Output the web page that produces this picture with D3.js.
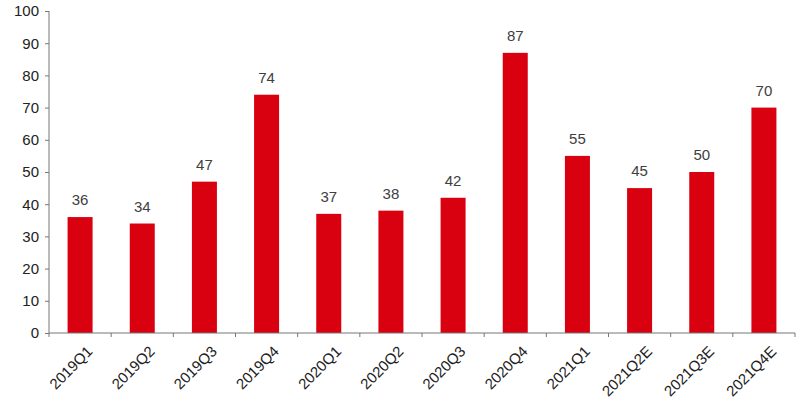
<!DOCTYPE html>
<html><head><meta charset="utf-8">
<script src="https://cdn.jsdelivr.net/npm/d3@7"></script>
<style>body{margin:0;background:#fff}</style>
</head><body>
<svg id="chart" width="800" height="404"></svg>
<script>
var quarters = ["2019Q1","2019Q2","2019Q3","2019Q4","2020Q1","2020Q2","2020Q3","2020Q4","2021Q1","2021Q2E","2021Q3E","2021Q4E"];
var values = [36,34,47,74,37,38,42,87,55,45,50,70];
var yTicks = [0,10,20,30,40,50,60,70,80,90,100];

var margin = {left: 49, right: 5, top: 11, bottom: 71};
var width = 800, height = 404;

var x = d3.scaleBand().domain(quarters).range([margin.left, width - margin.right]).paddingInner(0.6).paddingOuter(0.3);
var xb = d3.scaleBand().domain(quarters).range([margin.left, width - margin.right]);
var y = d3.scaleLinear().domain([0, 100]).range([height - margin.bottom, margin.top]);

var svg = d3.select("#chart").attr("font-family", "Arial, 'Liberation Sans', sans-serif");

svg.selectAll(".bar").data(values).join("rect")
  .attr("class", "bar")
  .attr("x", (d, i) => xb(quarters[i]) + xb.bandwidth() / 2 - 12.5)
  .attr("width", 25)
  .attr("y", d => y(d))
  .attr("height", d => y(0) - y(d))
  .attr("fill", "#d9000f");

svg.selectAll(".lbl").data(values).join("text")
  .attr("x", (d, i) => xb(quarters[i]) + xb.bandwidth() / 2)
  .attr("y", d => y(d) - 12)
  .attr("text-anchor", "middle")
  .attr("font-size", 15)
  .attr("fill", "#404040")
  .text(d => d);

// y axis
var ya = svg.append("g").attr("transform", `translate(${margin.left},0)`)
  .call(d3.axisLeft(y).tickValues(yTicks).tickSize(4).tickPadding(6));
ya.selectAll("text").attr("font-size", 15).attr("fill", "#222");
ya.selectAll("line,path").attr("stroke", "#777");
ya.select(".domain").attr("d", `M0,${y(100)}V${y(0)}`);

// x axis: ticks at band boundaries
var xa = svg.append("g").attr("transform", `translate(0,${y(0)})`);
xa.append("line").attr("x1", margin.left).attr("x2", width - margin.right).attr("stroke", "#777");
xa.selectAll(".tk").data(quarters.concat(["end"])).join("line")
  .attr("x1", (d, i) => margin.left + i * xb.bandwidth())
  .attr("x2", (d, i) => margin.left + i * xb.bandwidth())
  .attr("y1", 0).attr("y2", 4).attr("stroke", "#777");
xa.selectAll(".xl").data(quarters).join("text")
  .attr("transform", d => `translate(${xb(d) + xb.bandwidth() / 2 + 6},12) rotate(-45)`)
  .attr("text-anchor", "end")
  .attr("dy", "0.7em")
  .attr("font-size", 15)
  .attr("fill", "#222")
  .text(d => d);
</script>
</body></html>
